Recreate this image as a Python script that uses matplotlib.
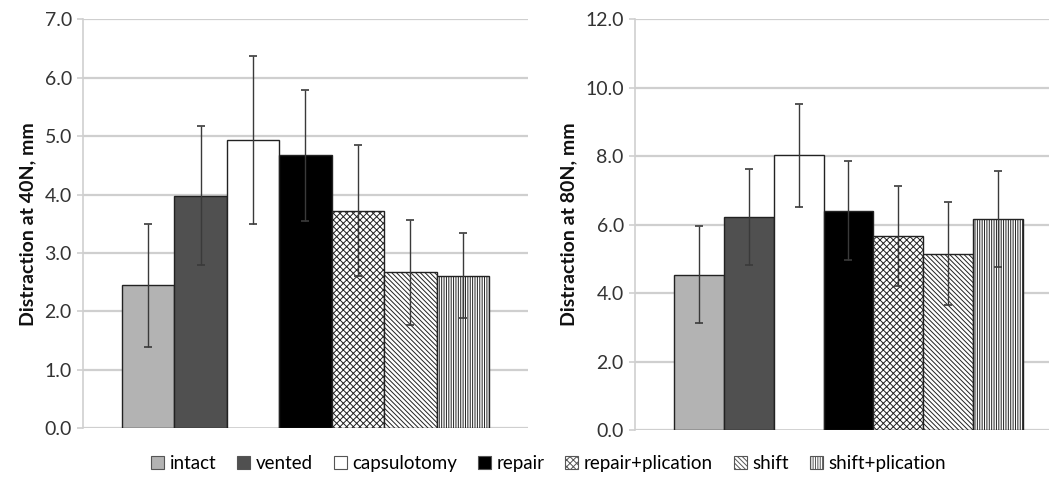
import matplotlib
matplotlib.use("Agg")
import matplotlib.pyplot as plt
from matplotlib.patches import Patch

plt.rcParams['font.family'] = ['Lato', 'DejaVu Sans']
plt.rcParams['hatch.linewidth'] = 0.7

categories = ["intact", "vented", "capsulotomy", "repair", "repair+plication", "shift", "shift+plication"]
vals_40 = [2.45, 3.98, 4.93, 4.67, 3.72, 2.67, 2.61]
err_40 = [1.05, 1.19, 1.44, 1.12, 1.12, 0.90, 0.73]
vals_80 = [4.54, 6.23, 8.03, 6.41, 5.67, 5.15, 6.17]
err_80 = [1.41, 1.40, 1.50, 1.45, 1.47, 1.50, 1.41]
ticks_40 = [0, 1, 2, 3, 4, 5, 6, 7]
ticks_80 = [0, 2, 4, 6, 8, 10, 12]

faces = ["#b3b3b3", "#505050", "white", "black", "white", "white", "white"]
hatches = [None, None, None, None, "xxxxx", "\\\\\\\\\\\\\\", "|||||||"]

fig = plt.figure(figsize=(10.49, 5.01), dpi=100)
ax1 = fig.add_axes([0.0791, 0.1451, 0.4242, 0.8164])
ax2 = fig.add_axes([0.6053, 0.1417, 0.3947, 0.8198])

grid_c = "#cfcfcf"


def draw(ax, vals, errs, ticks, ylabel, xlim):
    x = list(range(len(vals)))
    for i, (v, e) in enumerate(zip(vals, errs)):
        ax.bar(x[i], v, width=1.0, color=faces[i], edgecolor="#222222",
               linewidth=1.0, hatch=hatches[i], zorder=3)
        ax.errorbar(x[i], v, yerr=e, fmt="none", ecolor="#3a3a3a",
                    elinewidth=1.0, capsize=3, capthick=1.2, zorder=4)
    ax.set_xlim(*xlim)
    ax.set_ylim(0, ticks[-1])
    ax.set_yticks(ticks)
    ax.set_yticklabels([f"{t:.1f}" for t in ticks], fontsize=14, color="#333333")
    ax.yaxis.grid(True, color=grid_c, linewidth=1.6, zorder=0)
    ax.set_axisbelow(True)
    ax.set_xticks([])
    for s in ["top", "right", "bottom"]:
        ax.spines[s].set_visible(False)
    ax.spines["left"].set_color(grid_c)
    ax.spines["left"].set_linewidth(1.2)
    ax.tick_params(axis="y", length=4, color=grid_c, width=1.2, pad=4)
    ax.set_ylabel(ylabel, fontsize=14, fontweight="bold", color="#111111", labelpad=6)


draw(ax1, vals_40, err_40, ticks_40, "Distraction at 40N, mm", (-1.245, 7.245))
draw(ax2, vals_80, err_80, ticks_80, "Distraction at 80N, mm", (-1.28, 7.02))

handles = [Patch(facecolor=faces[i], edgecolor="#555555", linewidth=0.8,
                 hatch=hatches[i], label=categories[i]) for i in range(len(categories))]
fig.legend(handles=handles, loc="center", bbox_to_anchor=(0.523, 0.074), ncol=7,
           frameon=False, fontsize=13.5, handlelength=0.7, handleheight=0.7,
           handletextpad=0.3, columnspacing=1.1)

fig.savefig("out.png", dpi=100)
